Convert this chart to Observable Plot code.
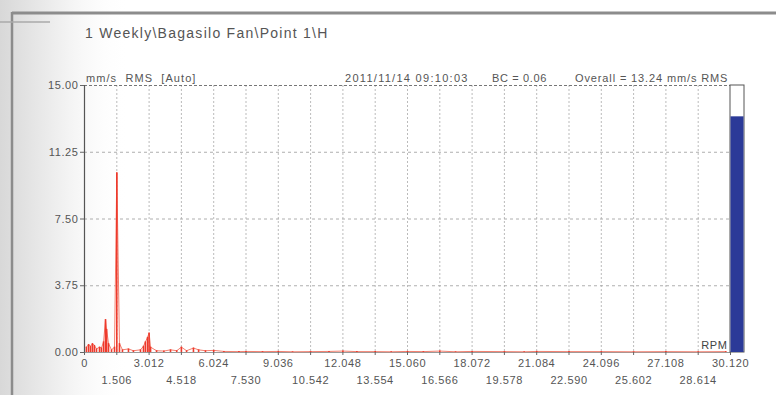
<!DOCTYPE html>
<html><head><meta charset="utf-8">
<script src="https://cdn.jsdelivr.net/npm/d3@7"></script>
<script src="https://cdn.jsdelivr.net/npm/@observablehq/plot@0.6"></script>
<style>
html,body{margin:0;padding:0;background:#fff;}
#chart{width:776px;height:395px;overflow:hidden;}
svg{display:block;}
svg text{letter-spacing:0.6px;}
</style></head>
<body><div id="chart"></div>
<script>
// ---- data ----
const title = "1 Weekly\\Bagasilo Fan\\Point 1\\H";
const unitLabel = "mm/s  RMS  [Auto]";
const stamp = "2011/11/14 09:10:03";
const bcLabel = "BC = 0.06";
const overallLabel = "Overall = 13.24 mm/s RMS";
const overallValue = 13.24;

const yTicks = [0, 3.75, 7.5, 11.25, 15];
const yTickLabels = ["0.00", "3.75", "7.50", "11.25", "15.00"];
const xTicks = [0,1506,3012,4518,6024,7530,9036,10542,12048,13554,15060,16566,18072,19578,21084,22590,24096,25602,27108,28614,30120];
const xTickLabels = ["0","1.506","3.012","4.518","6.024","7.530","9.036","10.542","12.048","13.554","15.060","16.566","18.072","19.578","21.084","22.590","24.096","25.602","27.108","28.614","30.120"];

// spectrum lines (RPM, mm/s RMS)
const specRpm = [90,190,280,370,460,560,700,790,890,980,1030,1120,1260,1400,1506,1630,1770,2050,2280,2610,2750,2840,2940,3012,3080,3360,3700,4010,4300,4518,4760,5080,5320,5640,6024,6500,7200,7530,8300,9036,9700,10542,11400,12048,12700,13554,14300,15060,15800,16566,17300,18072,19578,20500,21084,22590,24096,25602,27108,28614,29900];
const specAmp = [0.30,0.45,0.35,0.50,0.40,0.20,0.30,0.25,0.60,1.85,1.30,0.50,0.15,0.30,10.1,0.50,0.15,0.20,0.10,0.15,0.35,0.60,0.85,1.10,0.30,0.10,0.08,0.15,0.10,0.30,0.10,0.25,0.15,0.10,0.12,0.06,0.05,0.06,0.05,0.06,0.04,0.05,0.06,0.08,0.05,0.05,0.04,0.06,0.05,0.08,0.04,0.06,0.05,0.04,0.06,0.05,0.05,0.04,0.05,0.04,0.05];

const spec = specRpm.map((r, i) => ({rpm: r, amp: specAmp[i]}));
const yT = yTicks.map((v, i) => ({v, label: yTickLabels[i]}));
const xT = xTicks.map((v, i) => ({v, label: xTickLabels[i], row: i % 2}));

const font = "'Liberation Sans', Arial, sans-serif";
const txt = "#555";

const plot = Plot.plot({
  width: 776, height: 395,
  marginLeft: 84, marginRight: 46, marginTop: 85, marginBottom: 43,
  style: {fontFamily: font, fontSize: "10px", color: txt, background: "transparent", overflow: "visible"},
  x: {domain: [0, 30120]},
  y: {domain: [0, 15]},
  marks: [
    Plot.ruleY([3.75, 7.5, 11.25], {stroke: "#9a9a9a", strokeDasharray: "3,3", strokeWidth: 0.8}),
    Plot.ruleX(xTicks.slice(1, -1), {stroke: "#aaa", strokeDasharray: "2,2", strokeWidth: 0.8}),
    Plot.ruleY([15], {stroke: "#666", strokeDasharray: "3,2", strokeWidth: 0.9}),
    Plot.ruleY([0], {stroke: "#999", strokeWidth: 1}),
    Plot.line(spec, {x: "rpm", y: "amp", stroke: "#f38070", strokeWidth: 1}),
    Plot.ruleX(spec, {x: "rpm", y1: 0, y2: "amp", stroke: "#ee3a2c", strokeWidth: 1.6}),
    Plot.ruleX([0], {stroke: "#555", strokeWidth: 1.2}),
    Plot.axisY(yTicks, {tickSize: 4, tickFormat: () => "", stroke: "#666"}),
    Plot.text(yT, {x: 0, y: "v", text: "label", textAnchor: "end", dx: -6, fill: txt, fontSize: 11}),
    Plot.axisX(xTicks, {tickSize: 3, tickFormat: () => "", stroke: "#666"}),
    Plot.text(xT.filter(d => d.row === 0), {x: "v", y: 0, text: "label", dy: 11, fill: txt, fontSize: 11}),
    Plot.text(xT.filter(d => d.row === 1), {x: "v", y: 0, text: "label", dy: 28, fill: txt, fontSize: 11}),
    Plot.text(["RPM"], {frameAnchor: "bottom-right", dx: -3, dy: -4, fill: "#444", fontSize: 11})
  ]
});

document.getElementById("chart").appendChild(plot);
const svg = d3.select(plot);
const ys = plot.scale("y");

// background left streaks
const defs = svg.insert("defs", ":first-child");
const g = defs.append("linearGradient").attr("id", "bg").attr("x1", 0).attr("x2", 1);
g.append("stop").attr("offset", "0").attr("stop-color", "#d8d8d8");
g.append("stop").attr("offset", "0.5").attr("stop-color", "#f2f2f2");
g.append("stop").attr("offset", "1").attr("stop-color", "#ffffff").attr("stop-opacity", 0);
svg.insert("rect", "defs + *").attr("x", 0).attr("y", 0).attr("width", 130).attr("height", 395).attr("fill", "url(#bg)");

// frame
svg.append("line").attr("x1", 12).attr("x2", 776).attr("y1", 13).attr("y2", 13).attr("stroke", "#8c8c8c").attr("stroke-width", 3);
svg.append("line").attr("x1", 12).attr("x2", 12).attr("y1", 12).attr("y2", 395).attr("stroke", "#8c8c8c").attr("stroke-width", 2.5);
svg.append("line").attr("x1", 0).attr("x2", 50).attr("y1", 22).attr("y2", 22).attr("stroke", "#aaa").attr("stroke-width", 1.5);

// overall bar
const bx = 730, bw = 14;
svg.append("rect").attr("x", bx).attr("y", ys.apply(15)).attr("width", bw).attr("height", ys.apply(0) - ys.apply(15)).attr("fill", "#fff").attr("stroke", "#555").attr("stroke-width", 1);
svg.append("rect").attr("x", bx + 0.5).attr("y", ys.apply(overallValue)).attr("width", bw - 1).attr("height", ys.apply(0) - ys.apply(overallValue)).attr("fill", "#2b3a98");

// header texts
const addText = (x, y, size, len, s) => svg.append("text")
  .attr("x", x).attr("y", y).attr("font-size", size)
  .attr("font-family", font).attr("fill", txt).attr("text-anchor", "start")
  .attr("textLength", len).attr("lengthAdjust", "spacing").text(s);
addText(85, 38, 14, 243, title);
addText(86, 82, 11, 110, unitLabel);
addText(345, 82, 11, 123, stamp);
addText(492, 82, 11, 55, bcLabel);
addText(575, 82, 11, 153, overallLabel);
</script>
</body></html>
